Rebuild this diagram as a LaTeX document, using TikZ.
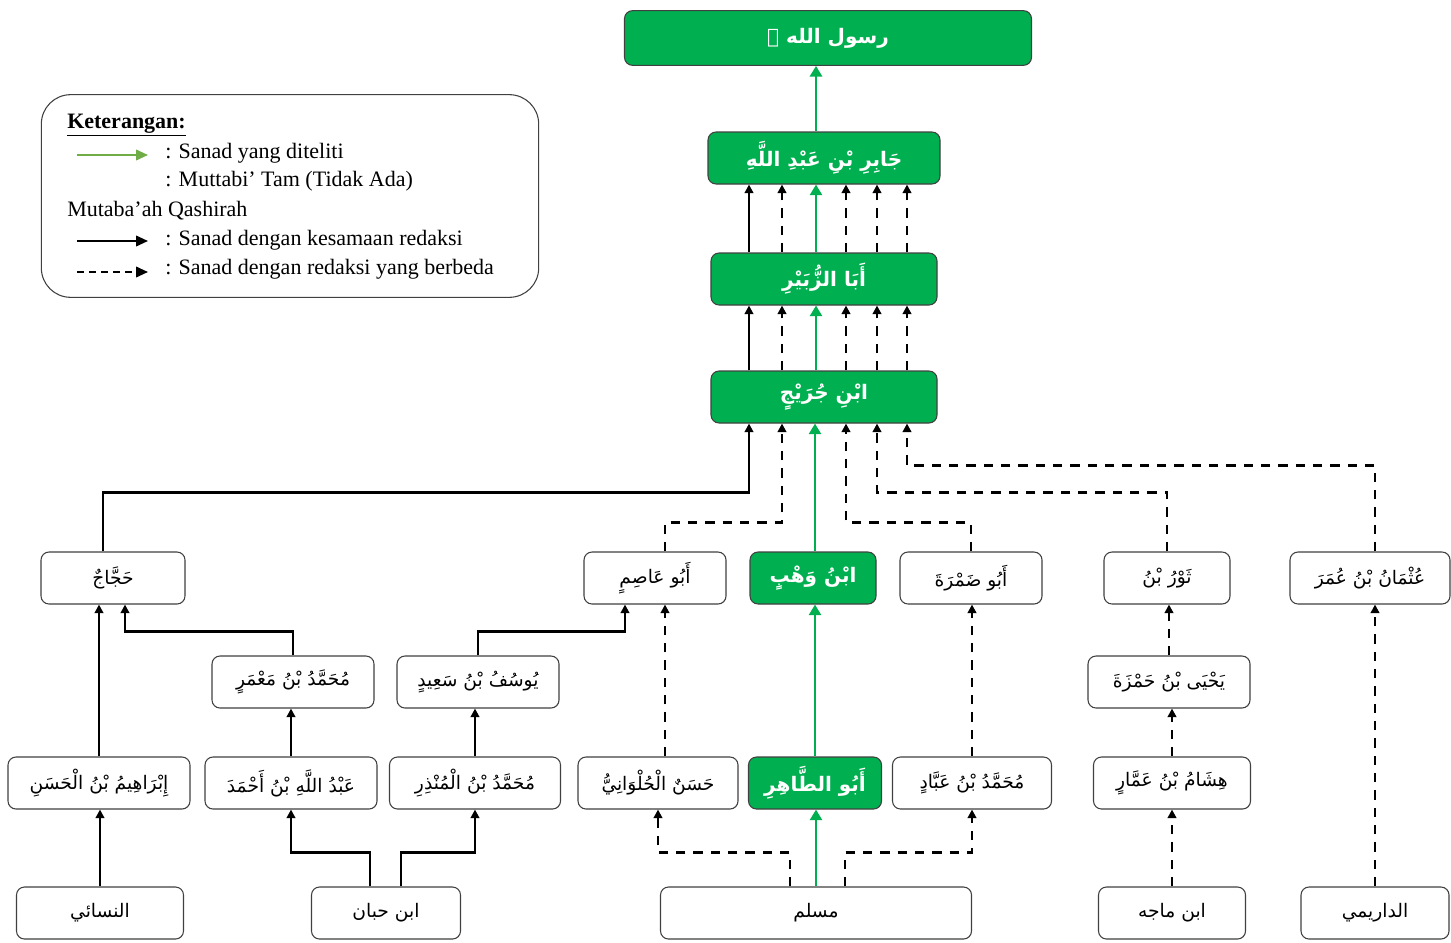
\documentclass[tikz,border=0pt]{standalone}
\usepackage{fontspec}
\setmainfont{Liberation Serif}
\newfontfamily\arabicfont[Script=Arabic]{DejaVu Sans}
\TeXXeTstate=1
\usetikzlibrary{arrows.meta,calc}
\definecolor{sanadgreen}{HTML}{00B050}
\definecolor{leggreen}{HTML}{70AD47}
\definecolor{boxline}{HTML}{404040}
\newcommand{\artext}[1]{{\arabicfont\beginR #1\endR}}

\begin{document}
\begin{tikzpicture}[x=0.75pt,y=-0.75pt,
		rawi/.style={draw=boxline,line width=0.8pt,rounded corners=6pt,fill=white,
			minimum width=#1*0.75pt,minimum height=39pt,font=\fontsize{14}{16}\selectfont},
		utama/.style={rawi=#1,fill=sanadgreen,text=white,font=\fontsize{15}{17}\selectfont\bfseries},
		plain/.style={line width=2pt,-{Triangle[length=6.5pt,width=6.5pt]}},
		putus/.style={plain,dash pattern=on 7pt off 6pt},
		hijau/.style={draw=sanadgreen,line width=2.2pt,-{Triangle[length=8pt,width=9pt]}},
		ket/.style={anchor=west,inner sep=0pt,font=\fontsize{16.5}{19}\selectfont}]
	\useasboundingbox (0,0) rectangle (1451,942);

	\node[draw=boxline,line width=0.8pt,rounded corners=22pt,minimum width=373pt,minimum height=152pt] (legenda) at (290,196) {};
	\node[ket] (k0) at (67,125) {\textbf{\underline{Keterangan:}}};
	\coordinate (a0) at (77,155);
	\coordinate (a1) at (148,155);
	\draw[leggreen,line width=1.3pt,-{Triangle[length=9pt,width=8pt]}] (a0) -- (a1);
	\node[ket] (k1) at (165,153) {: Sanad yang diteliti};
	\node[ket] (k2) at (165,181) {: Muttabi’ Tam (Tidak Ada)};
	\node[ket] (k3) at (67,211) {Mutaba’ah Qashirah};
	\coordinate (b0) at (77,241);
	\coordinate (b1) at (148,241);
	\draw[line width=1.3pt,-{Triangle[length=9pt,width=8pt]}] (b0) -- (b1);
	\node[ket] (k4) at (165,240) {: Sanad dengan kesamaan redaksi};
	\coordinate (c0) at (77,272);
	\coordinate (c1) at (148,272);
	\draw[line width=1.3pt,dash pattern=on 5pt off 4pt,-{Triangle[length=9pt,width=8pt]}] (c0) -- (c1);
	\node[ket] (k5) at (165,269) {: Sanad dengan redaksi yang berbeda};

	\node[utama=407,minimum height=41pt] (rasul) at (828,38) {\artext{رسول الله ﷺ}};
	\node[utama=232] (jabir) at (824,158) {\artext{جَابِرِ بْنِ عَبْدِ اللَّهِ}};
	\node[utama=226] (zubair) at (824,279) {\artext{أَبَا الزُّبَيْرِ}};
	\node[utama=226] (juraij) at (824,397) {\artext{ابْنِ جُرَيْجٍ}};

	\node[rawi=144] (hajjaj) at (113,578) {\artext{حَجَّاجٌ}};
	\node[rawi=142] (abuashim) at (655,578) {\artext{أَبُو عَاصِمٍ}};
	\node[utama=126] (ibnwahb) at (813,578) {\artext{ابْنُ وَهْبٍ}};
	\node[rawi=142] (abudamrah) at (971,578) {\artext{أَبُو ضَمْرَةَ}};
	\node[rawi=126] (tsaur) at (1167,578) {\artext{ثَوْرُ بْنُ}};
	\node[rawi=160] (utsman) at (1370,578) {\artext{عُثْمَانُ بْنُ عُمَرَ}};

	\node[rawi=162] (mamar) at (293,682) {\artext{مُحَمَّدُ بْنُ مَعْمَرٍ}};
	\node[rawi=162] (yusuf) at (478,682) {\artext{يُوسُفُ بْنُ سَعِيدٍ}};
	\node[rawi=162] (yahya) at (1169,682) {\artext{يَحْيَى بْنُ حَمْزَةَ}};

	\node[rawi=182] (ibrahim) at (99,783) {\artext{إِبْرَاهِيمُ بْنُ الْحَسَنِ}};
	\node[rawi=172] (abdullah) at (291,783) {\artext{عَبْدُ اللَّهِ بْنُ أَحْمَدَ}};
	\node[rawi=171] (mundzir) at (475,783) {\artext{مُحَمَّدُ بْنُ الْمُنْذِرِ}};
	\node[rawi=160] (hulwani) at (658,783) {\artext{حَسَنٌ الْحُلْوَانِيُّ}};
	\node[utama=133] (abuthahir) at (815,783) {\artext{أَبُو الطَّاهِرِ}};
	\node[rawi=159] (abbad) at (972,783) {\artext{مُحَمَّدُ بْنُ عَبَّادٍ}};
	\node[rawi=157] (hisyam) at (1172,783) {\artext{هِشَامُ بْنُ عَمَّارٍ}};

	\node[rawi=167] (nasai) at (100,913) {\artext{النسائي}};
	\node[rawi=149] (hibban) at (386,913) {\artext{ابن حبان}};
	\node[rawi=311] (muslim) at (816,913) {\artext{مسلم}};
	\node[rawi=147] (majah) at (1172,913) {\artext{ابن ماجه}};
	\node[rawi=148] (darimi) at (1375,913) {\artext{الداريمي}};

	\draw[hijau] ($(jabir.north)+(-8,0)$) coordinate (g1) -- (g1 |- rasul.south);
	\draw[plain] ($(zubair.north)+(-75,0)$) -- ($(jabir.south)+(-75,0)$);
	\draw[hijau] ($(zubair.north)+(-8,0)$) -- ($(jabir.south)+(-8,0)$);
	\foreach \dx in {-42,22,53,83}
		\draw[putus] ($(zubair.north)+(\dx,0)$) -- ($(jabir.south)+(\dx,0)$);
	\draw[plain] ($(juraij.north)+(-75,0)$) -- ($(zubair.south)+(-75,0)$);
	\draw[hijau] ($(juraij.north)+(-8,0)$) -- ($(zubair.south)+(-8,0)$);
	\foreach \dx in {-42,22,53,83}
		\draw[putus] ($(juraij.north)+(\dx,0)$) -- ($(zubair.south)+(\dx,0)$);

	\draw[plain] ($(hajjaj.north)+(-10,0)$) -- ++(0,-59) -| ($(juraij.south)+(-75,0)$);
	\draw[putus] ($(abuashim.north)+(10,0)$) -- ++(0,-29) -| ($(juraij.south)+(-42,0)$);
	\draw[hijau] ($(ibnwahb.north)+(2,0)$) coordinate (g2) -- (g2 |- juraij.south);
	\draw[putus] (abudamrah.north) -- ++(0,-29) -| ($(juraij.south)+(22,0)$);
	\draw[putus] (tsaur.north) -- ++(0,-59) -| ($(juraij.south)+(53,0)$);
	\draw[putus] ($(utsman.north)+(5,0)$) -- ++(0,-86) -| ($(juraij.south)+(83,0)$);

	\draw[plain] (ibrahim.north) -- (ibrahim.north |- hajjaj.south);
	\draw[plain] (mamar.north) -- ++(0,-24) -| ($(hajjaj.south)+(12,0)$);
	\draw[plain] (abdullah.north) -- (abdullah.north |- mamar.south);
	\draw[plain] (yusuf.north) -- ++(0,-24) -| ($(abuashim.south)+(-30,0)$);
	\draw[plain] (mundzir.north) -- (mundzir.north |- yusuf.south);
	\draw[putus] ($(hulwani.north)+(7,0)$) coordinate (h1) -- (h1 |- abuashim.south);
	\draw[hijau] (abuthahir.north) -- (abuthahir.north |- ibnwahb.south);
	\draw[putus] (abbad.north) -- (abbad.north |- abudamrah.south);
	\draw[putus] (yahya.north) -- (yahya.north |- tsaur.south);
	\draw[putus] (hisyam.north) -- (hisyam.north |- yahya.south);
	\draw[putus] (darimi.north) -- (darimi.north |- utsman.south);

	\draw[plain] (nasai.north) -- (nasai.north |- ibrahim.south);
	\draw[plain] ($(hibban.north)+(-16,0)$) -- ++(0,-34) -| (abdullah.south);
	\draw[plain] ($(hibban.north)+(15,0)$) -- ++(0,-34) -| (mundzir.south);
	\draw[putus] ($(muslim.north)+(-26,0)$) -- ++(0,-34) -| (hulwani.south);
	\draw[hijau] (muslim.north) -- (muslim.north |- abuthahir.south);
	\draw[putus] ($(muslim.north)+(29,0)$) -- ++(0,-34) -| (abbad.south);
	\draw[putus] (majah.north) -- (majah.north |- hisyam.south);
\end{tikzpicture}
\end{document}
